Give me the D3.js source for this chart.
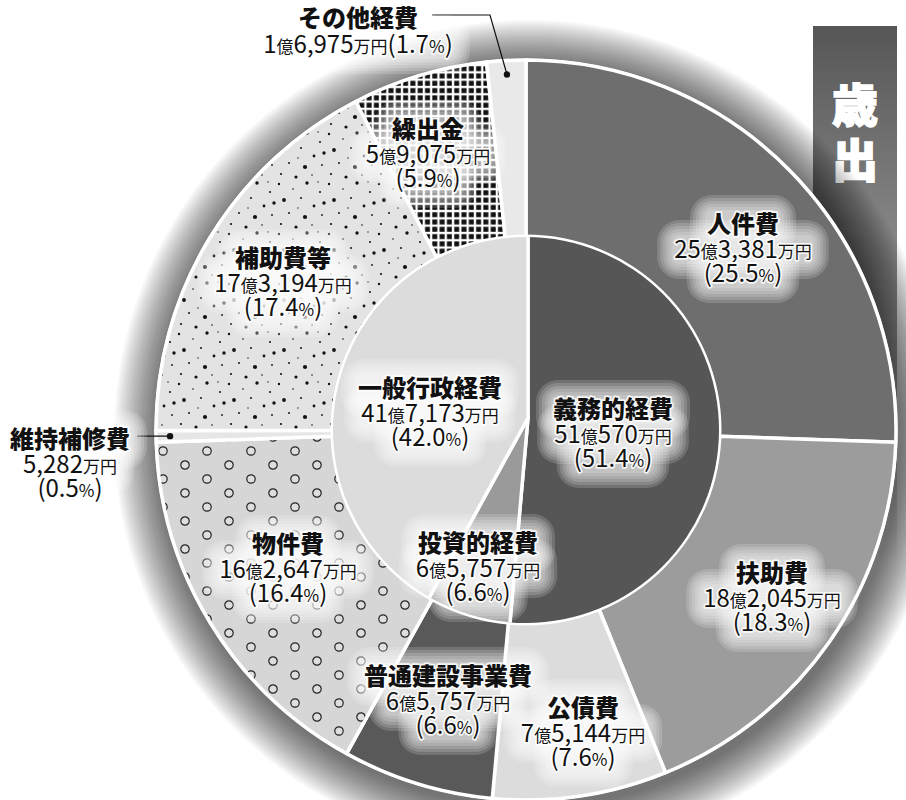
<!DOCTYPE html>
<html><head><meta charset="utf-8">
<script src="https://cdn.jsdelivr.net/npm/d3@7"></script>
<style>
html,body{margin:0;padding:0;background:#fff;}
svg{display:block;font-family:"Noto Sans CJK JP","Noto Sans",sans-serif;}
</style></head><body>
<svg id="chart" width="906" height="800"></svg>
<script>
// ---- data ----
const outerCategories = ["人件費","扶助費","公債費","普通建設事業費","物件費","維持補修費","補助費等","繰出金","その他経費"];
const outerAmounts = ["25億3,381万円","18億2,045万円","7億5,144万円","6億5,757万円","16億2,647万円","5,282万円","17億3,194万円","5億9,075万円","1億6,975万円"];
const outerPercents = [25.5,18.3,7.6,6.6,16.4,0.5,17.4,5.9,1.7];
const innerCategories = ["義務的経費","投資的経費","一般行政経費"];
const innerAmounts = ["51億570万円","6億5,757万円","41億7,173万円"];
const innerPercents = [51.4,6.6,42.0];
const sectionTitle = ["歳","出"];

// ---- styles / layout ----
const outerFills = ["#6e6e6e","#9c9c9c","#dcdcdc","#595959","url(#pCircles)","#e6e6e6","url(#pDots)","url(#pGrid)","#e9e9e9"];
const innerFills = ["#565656","#9a9a9a","#dcdcdc"];
const outerLabelPos = [[743,233],[772,582],[583,717],[448,685],[288,553],[70,448],[283,267],[428,138],[358,27]];
const innerLabelPos = [[613,418],[478,552],[430,397]];

const svg = d3.select("#chart");
const cx = 526, cy = 430, R = 370, r0 = 193;
const apex = [528, 418];
const fmt = d3.format(".1f");

const defs = svg.append("defs");
// gradient for title box
const lg = defs.append("linearGradient").attr("id","boxGrad").attr("gradientUnits","userSpaceOnUse")
  .attr("x1",0).attr("y1",26).attr("x2",0).attr("y2",560);
lg.append("stop").attr("offset","0").attr("stop-color","#565656");
lg.append("stop").attr("offset","0.45").attr("stop-color","#8c8c8c");
lg.append("stop").attr("offset","0.75").attr("stop-color","#c4c4c4");
lg.append("stop").attr("offset","1").attr("stop-color","#ffffff");
// patterns
const pc = defs.append("pattern").attr("id","pCircles").attr("patternUnits","userSpaceOnUse").attr("width",44).attr("height",28);
pc.append("rect").attr("width",44).attr("height",28).attr("fill","#d6d6d6");
[[11,7],[33,21]].forEach(p=>pc.append("circle").attr("cx",p[0]).attr("cy",p[1]).attr("r",4.2).attr("fill","#dedede").attr("stroke","#222").attr("stroke-width",1.2));
const pd = defs.append("pattern").attr("id","pDots").attr("patternUnits","userSpaceOnUse").attr("width",50).attr("height",50);
pd.append("rect").attr("width",50).attr("height",50).attr("fill","#e3e3e3");
[[3,4,1.2],[17,9,0.8],[31,3,1.7],[44,12,1],[8,20,1.9],[25,18,1],[38,26,1.4],[13,33,1],[29,37,2.1],[46,35,0.9],[5,44,1.1],[20,47,1.6],[36,45,0.8],[48,23,1.7],[22,28,0.7],[42,2,0.7]]
  .forEach(p=>pd.append("circle").attr("cx",p[0]).attr("cy",p[1]).attr("r",p[2]).attr("fill","#111"));
const pg = defs.append("pattern").attr("id","pGrid").attr("patternUnits","userSpaceOnUse").attr("width",7.3).attr("height",7.3);
pg.append("rect").attr("width",7.3).attr("height",7.3).attr("fill","#fff");
pg.append("rect").attr("x",1.2).attr("y",1.2).attr("width",5).attr("height",5).attr("fill","#111");
// inner clip
defs.append("clipPath").attr("id","innerClip").append("circle").attr("cx",cx).attr("cy",cy).attr("r",r0);

// title box (behind ring)
svg.append("rect").attr("x",813).attr("y",26).attr("width",84).attr("height",534).attr("fill","url(#boxGrad)");
const tb = svg.append("text").attr("text-anchor","middle").attr("fill","#fff").attr("font-weight",900).attr("font-size",46)
  .attr("stroke","#fff").attr("stroke-width",1.5);
sectionTitle.forEach((c,i)=>tb.append("tspan").attr("x",855).attr("y",122+i*55).text(c));

const pie = d3.pie().sort(null).value(d=>d);
const outerArcs = pie(outerPercents);

// ring shadow: many faint translucent annuli outside the ring
const shadowWidths = d3.range(46, 0, -2);
const gShadow = svg.append("g").attr("transform",`translate(${cx+4},${cy+6})`);
gShadow.selectAll("path").data(shadowWidths).join("path")
  .attr("d",w=>d3.arc().innerRadius(R-8).outerRadius(R+w).startAngle(0).endAngle(2*Math.PI)())
  .attr("fill","#000").attr("fill-opacity",0.032);

// outer ring
const arcOuter = d3.arc().innerRadius(r0).outerRadius(R);
const gOuter = svg.append("g").attr("transform",`translate(${cx},${cy})`);
gOuter.append("path").attr("d",d3.arc().innerRadius(0).outerRadius(R+1.5).startAngle(0).endAngle(2*Math.PI)()).attr("fill","#fff");
gOuter.selectAll("path.slice").data(outerArcs).join("path").attr("class","slice")
  .attr("d",arcOuter).attr("fill",(d,i)=>outerFills[i])
  .attr("stroke","#fff").attr("stroke-width",3.5).attr("stroke-linejoin","round");

// inner pie (apex slightly off-centre, clipped to the circle)
const innerArcs = pie(innerPercents);
const arcInner = d3.arc().innerRadius(0).outerRadius(260);
const gInnerClip = svg.append("g").attr("clip-path","url(#innerClip)");
const gInner = gInnerClip.append("g").attr("transform",`translate(${apex[0]},${apex[1]})`);
gInner.selectAll("path").data(innerArcs).join("path")
  .attr("d",arcInner).attr("fill",(d,i)=>innerFills[i])
  .attr("stroke","#fff").attr("stroke-width",3.5).attr("stroke-linejoin","round");
gOuter.append("path").attr("d",d3.arc().innerRadius(r0-2.5).outerRadius(r0+2.5).startAngle(0).endAngle(2*Math.PI)()).attr("fill","#fff");

// text helpers
function addRuns(sel, str){
  const re = /([億万円%]+)|([^億万円%]+)/g; let m;
  while((m = re.exec(str))){
    if(m[1]) sel.append("tspan").attr("font-size",17).text(m[1]);
    else sel.append("tspan").attr("font-size",24).text(m[2]);
  }
}
const glowPads = [17,14,11,8,5,2];
function label(x,y,title,amount,pct,oneLine){
  const g = svg.append("g");
  const glowG = g.append("g");
  const t = g.append("text").attr("text-anchor","middle").attr("fill","#111")
    .attr("stroke","#fff").attr("stroke-width",3.5).attr("stroke-linejoin","round")
    .attr("stroke-opacity",0.85).style("paint-order","stroke");
  t.append("tspan").attr("x",x).attr("y",y).attr("font-size",24).attr("font-weight",900).text(title);
  let lineYs;
  if(oneLine){
    addRuns(t.append("tspan").attr("x",x).attr("y",y+26), amount + "(" + fmt(pct) + "%)");
    lineYs = [y, y+26];
  } else {
    addRuns(t.append("tspan").attr("x",x).attr("y",y+25), amount);
    addRuns(t.append("tspan").attr("x",x).attr("y",y+49), "(" + fmt(pct) + "%)");
    lineYs = [y, y+25, y+49];
  }
  // soft white glow: stacked translucent rounded boxes behind each line
  t.selectAll(":scope > tspan").nodes().forEach((node,i)=>{
    let w = 0;
    try { w = node.getComputedTextLength(); } catch(e) { w = 0; }
    if(!w) w = node.textContent.length*17;
    glowPads.forEach(p=>{
      glowG.append("rect").attr("x",x-w/2-p).attr("y",lineYs[i]-21-p)
        .attr("width",w+2*p).attr("height",25+2*p).attr("rx",p+5)
        .attr("fill","#fff").attr("fill-opacity",0.16);
    });
  });
}

// leader lines
const leaderArc = d3.arc().innerRadius(356).outerRadius(356);
const otherIdx = 8, maintIdx = 5;
const pOther = leaderArc.centroid(outerArcs[otherIdx]);
const dOther = [cx+pOther[0], cy+pOther[1]];
svg.append("path").attr("d",d3.line()([[432,15],[490,15],dOther])).attr("fill","none").attr("stroke","#111").attr("stroke-width",1.2);
svg.append("circle").attr("cx",dOther[0]).attr("cy",dOther[1]).attr("r",3.2).attr("fill","#111");
const pMaint = leaderArc.centroid(outerArcs[maintIdx]);
const dMaint = [cx+pMaint[0], cy+pMaint[1]];
svg.append("path").attr("d",d3.line()([[137,dMaint[1]],dMaint])).attr("fill","none").attr("stroke","#111").attr("stroke-width",1.2);
svg.append("circle").attr("cx",dMaint[0]).attr("cy",dMaint[1]).attr("r",3.2).attr("fill","#111");

// labels
outerCategories.forEach((c,i)=>{
  label(outerLabelPos[i][0], outerLabelPos[i][1], c, outerAmounts[i], outerPercents[i], i===otherIdx);
});
innerCategories.forEach((c,i)=>{
  label(innerLabelPos[i][0], innerLabelPos[i][1], c, innerAmounts[i], innerPercents[i], false);
});
</script>
</body></html>
